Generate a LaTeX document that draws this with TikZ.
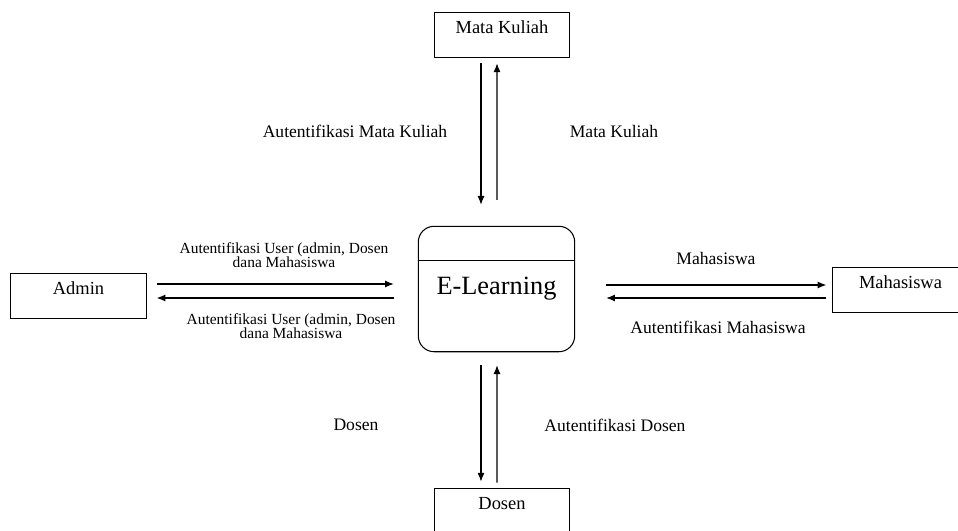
\documentclass[tikz,border=0pt]{standalone}
\usepackage{fontspec}
\setmainfont{Liberation Serif}
\usetikzlibrary{calc,arrows.meta}

\begin{document}
\begin{tikzpicture}
	[x=0.02cm,y=-0.02cm,line width=0.6pt,
	entity/.style={draw,rectangle,minimum width=77pt,inner ysep=5pt,
		text height=7pt,text depth=9pt,font=\fontsize{10.5}{12}\selectfont},
	proc/.style={draw,rectangle,rounded corners=9pt,minimum width=89pt,
		minimum height=71.4pt,font=\fontsize{15}{18}\selectfont},
	flow/.style={-{Latex[length=5pt,width=4pt]}},
	lbl/.style={font=\fontsize{10}{12}\selectfont,align=center},
	small/.style={font=\fontsize{8.8}{8}\selectfont,align=center}]
	\useasboundingbox (0,0) rectangle (958,531);
	
	% process and external entities
	\node[proc] (el) at (496.5,289) {\raisebox{-2pt}{E-Learning}};
	\draw ($(el.north west)+(0,35)$) -- ($(el.north east)+(0,35)$);
	\node[entity] (mk) at (502,35) {Mata Kuliah};
	\node[entity] (adm) at (78.5,296) {Admin};
	\node[entity] (mhs) at (900.5,290) {Mahasiswa};
	\node[entity] (dsn) at (502,511) {Dosen};
	
	% data flows
	\draw[flow] ($(mk.south)+(-21,5)$) -- ($(el.north)+(-15.5,-21)$);
	\draw[flow] ($(el.north)+(0.5,-26)$) -- ($(mk.south)+(-5,5)$);
	\draw[flow] ($(adm.east)+(10,-12)$) -- ($(el.west)+(-24,-5)$);
	\draw[flow] ($(el.west)+(-24,9)$) -- ($(adm.east)+(10,2)$);
	\draw[flow] ($(el.east)+(31,-4)$) -- ($(mhs.west)+(-6,-5)$);
	\draw[flow] ($(mhs.west)+(-6,8)$) -- ($(el.east)+(31,9)$);
	\draw[flow] ($(el.south)+(-15.5,13)$) -- ($(dsn.north)+(-21,-6)$);
	\draw[flow] ($(dsn.north)+(-5,-5)$) -- ($(el.south)+(0.5,13)$);
	
	% flow labels
	\node[lbl] (l1) at (355,131) {Autentifikasi Mata Kuliah};
	\node[lbl] (l2) at (614,131) {Mata Kuliah};
	\node[small] (l3) at (284,255) {Autentifikasi User (admin, Dosen\\dana Mahasiswa};
	\node[small] (l4) at (291,326) {Autentifikasi User (admin, Dosen\\dana Mahasiswa};
	\node[lbl] (l5) at (716,258) {Mahasiswa};
	\node[lbl] (l6) at (718,327) {Autentifikasi Mahasiswa};
	\node[lbl] (l7) at (356,425) {Dosen};
	\node[lbl] (l8) at (615,425) {Autentifikasi Dosen};
\end{tikzpicture}
\end{document}
